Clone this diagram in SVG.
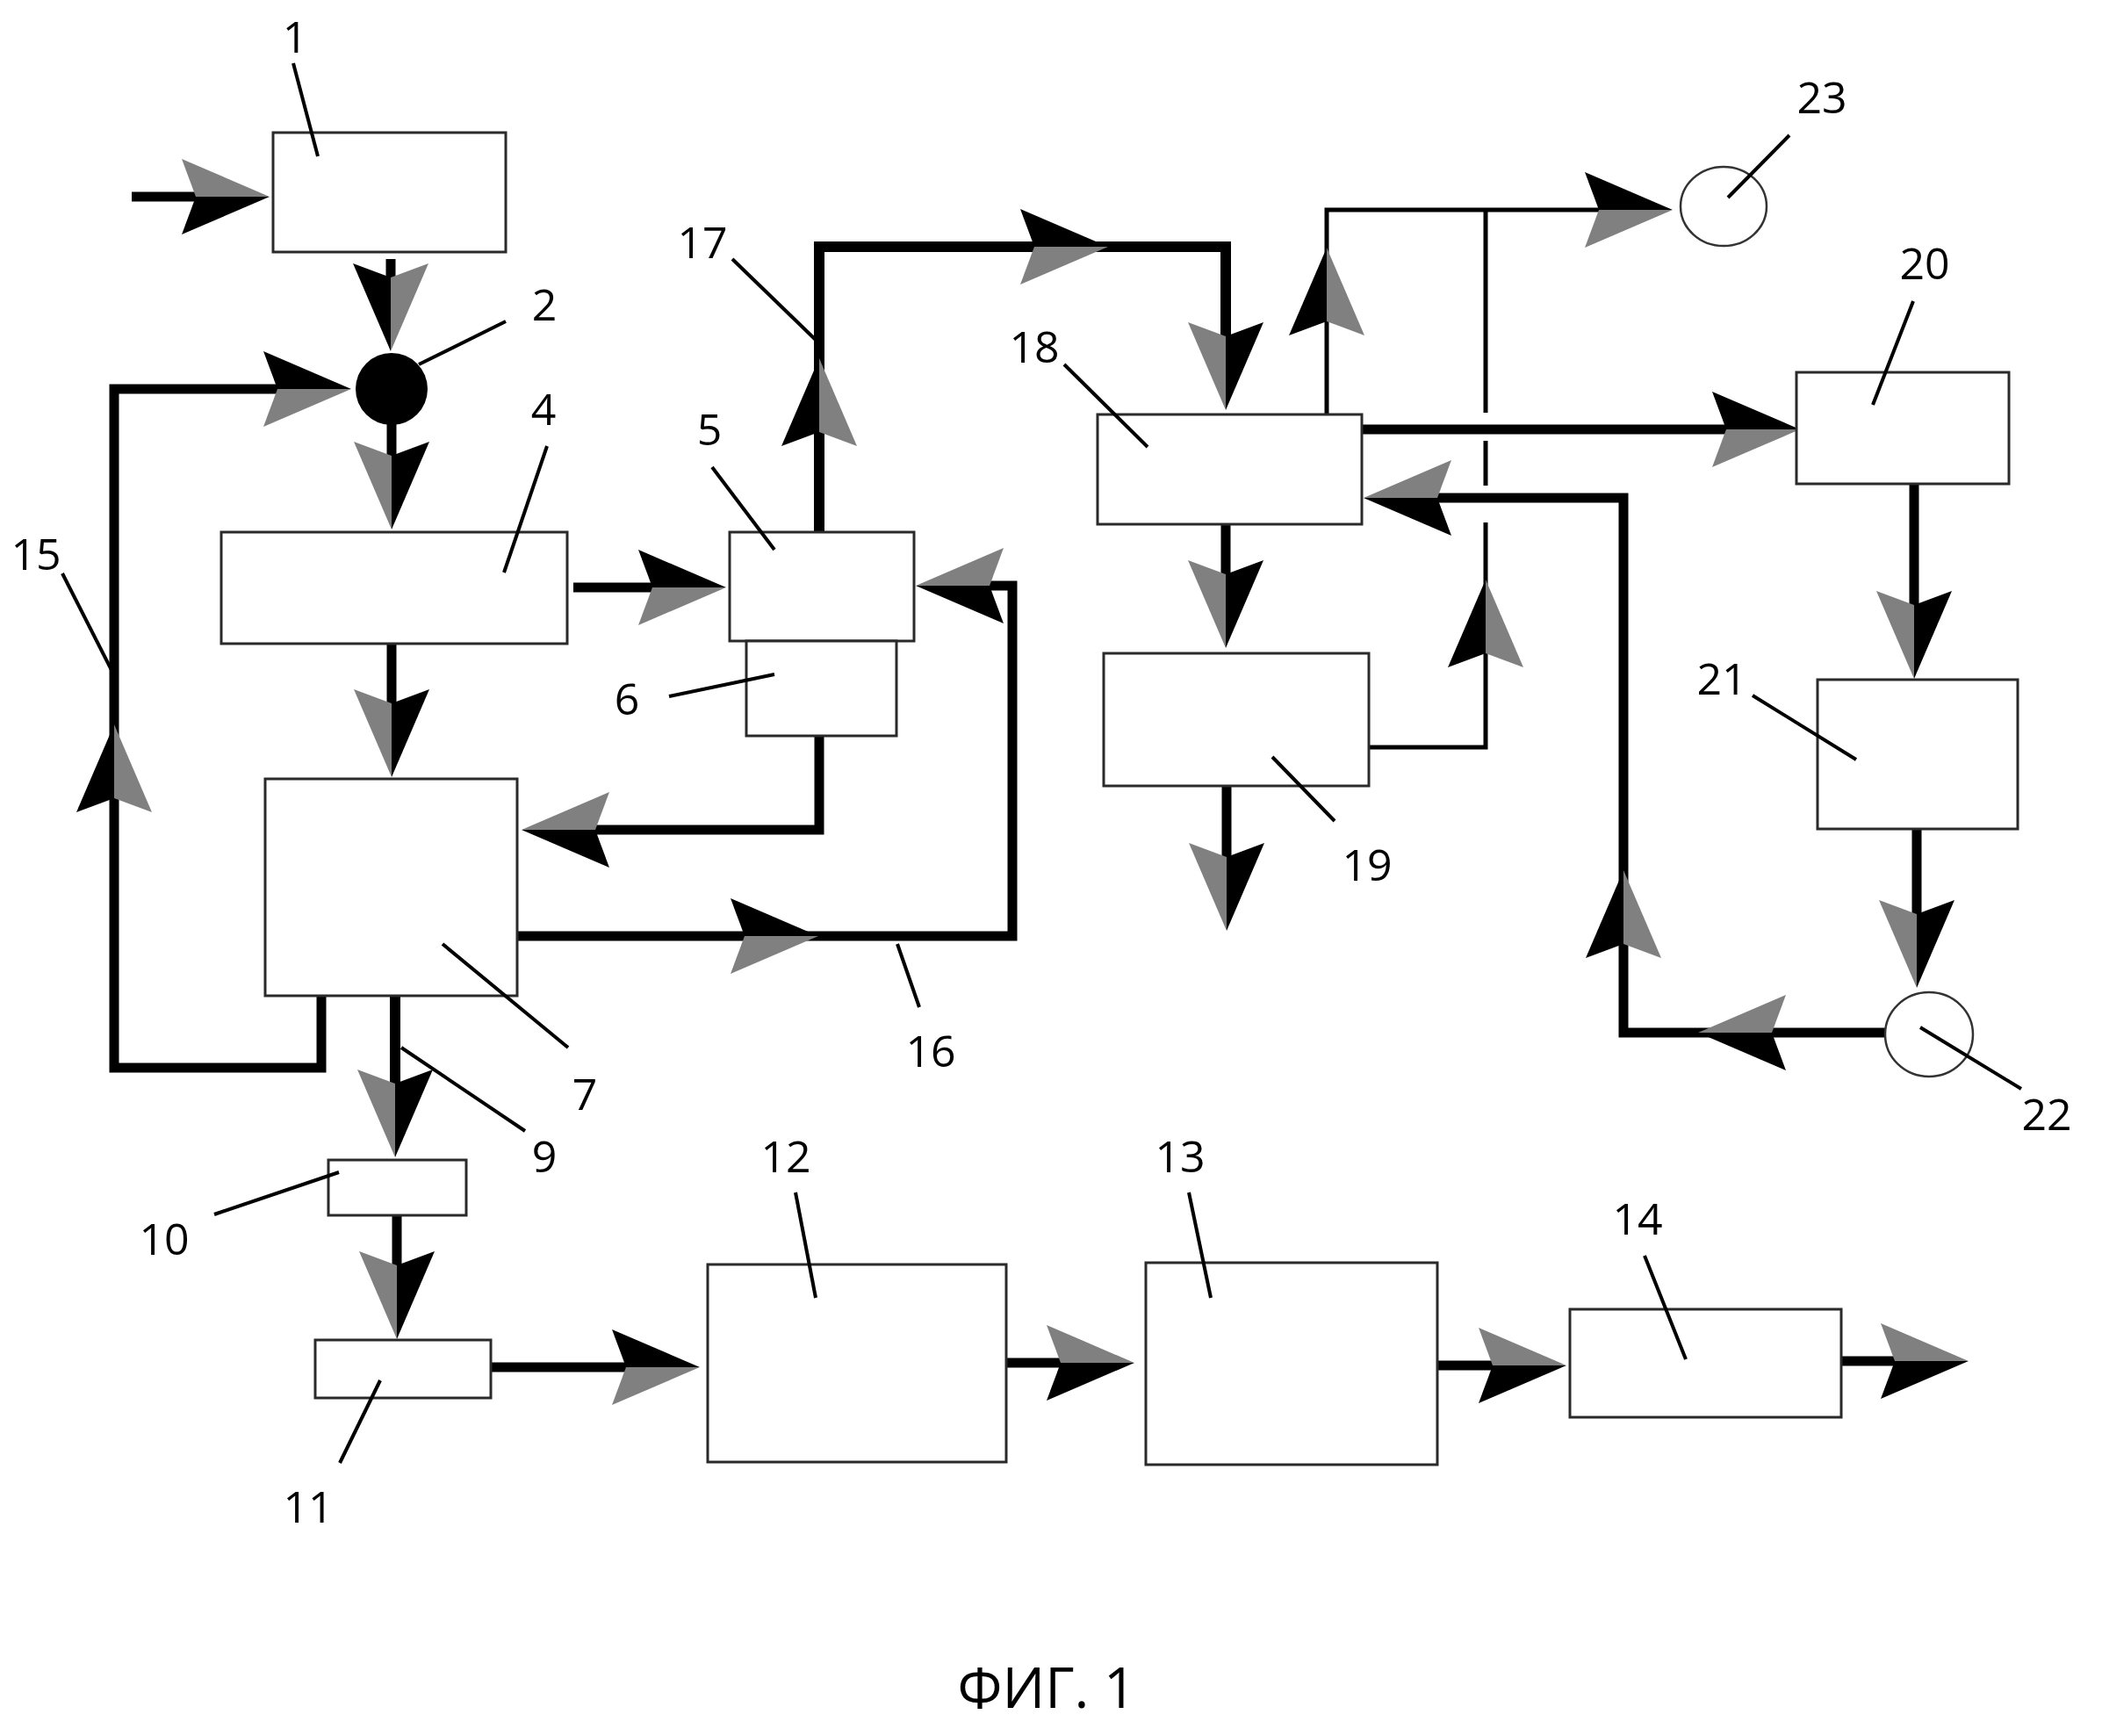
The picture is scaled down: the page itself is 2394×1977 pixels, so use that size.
<svg xmlns="http://www.w3.org/2000/svg" width="2394" height="1977" viewBox="0 0 2394 1977">
<style>
.box{fill:#fff;stroke:#2a2a2a;stroke-width:3}
.ln{fill:none;stroke:#000;stroke-width:11;stroke-linejoin:miter}
.thin{fill:none;stroke:#000;stroke-width:5}
.ld{fill:none;stroke:#000;stroke-width:4}
.lbl{font-family:"Open Sans","Liberation Sans",sans-serif;font-size:50px;fill:#000;text-anchor:middle}
.cap{font-family:"Open Sans","Liberation Sans",sans-serif;font-size:64px;fill:#000;text-anchor:middle}
</style>
<defs>
<g id="ahA"><path d="M0,0 L-100,-43 L-84,0 Z" fill="#808080"/><path d="M0,0 L-84,0 L-100,43 Z" fill="#000"/></g>
<g id="ahB"><path d="M0,0 L-100,-43 L-84,0 Z" fill="#000"/><path d="M0,0 L-84,0 L-100,43 Z" fill="#808080"/></g>
</defs>
<rect width="2394" height="1977" fill="#fff"/>

<g id="connectors">
<path class="ln" d="M150,224 H285"/>
<path class="ln" d="M445,295 V375"/>
<path class="ln" d="M366,1134 V1216 H130 V443 H375"/>
<path class="ln" d="M446,483 V580"/>
<path class="ln" d="M653,669 H805"/>
<path class="ln" d="M446,733 V862"/>
<path class="ln" d="M933,838 V945 H618"/>
<path class="ln" d="M589,1066 H1153 V667 H1068"/>
<path class="ln" style="stroke-width:12" d="M933,606 V281 H1396 V442"/>
<path class="thin" d="M1511,472 V239 H1880"/>
<path class="thin" d="M1559,851 H1692 V595 M1692,553 V502 M1692,470 V239"/>
<path class="ln" d="M1551,489 H2025"/>
<path class="ln" d="M2180,551 V750"/>
<path class="ln" d="M2183,944 V1100"/>
<path class="ln" d="M2147,1176 H1849 V567 H1578"/>
<path class="ln" d="M1396,597 V715"/>
<path class="ln" d="M1397,895 V1035"/>
<path class="ln" style="stroke-width:12" d="M450,1134 V1295"/>
<path class="ln" d="M452,1384 V1500"/>
<path class="ln" d="M559,1557 H772"/>
<path class="ln" d="M1146,1552 H1268"/>
<path class="ln" d="M1637,1555 H1760"/>
<path class="ln" d="M2097,1550 H2218"/>

<use href="#ahA" transform="translate(307,224)"/>
<use href="#ahA" transform="translate(445,400) rotate(90)"/>
<use href="#ahB" transform="translate(130,825) rotate(-90)"/>
<use href="#ahB" transform="translate(400,443)"/>
<use href="#ahB" transform="translate(446,603) rotate(90)"/>
<use href="#ahB" transform="translate(827,669)"/>
<use href="#ahB" transform="translate(446,885) rotate(90)"/>
<use href="#ahB" transform="translate(594,945) rotate(180)"/>
<use href="#ahB" transform="translate(932,1066)"/>
<use href="#ahB" transform="translate(1043,667) rotate(180)"/>
<use href="#ahB" transform="translate(933,408) rotate(-90)"/>
<use href="#ahB" transform="translate(1262,281)"/>
<use href="#ahB" transform="translate(1396,467) rotate(90)"/>
<use href="#ahB" transform="translate(1511,282) rotate(-90)"/>
<use href="#ahB" transform="translate(1905,239)"/>
<use href="#ahB" transform="translate(1692,660) rotate(-90)"/>
<use href="#ahB" transform="translate(2050,489)"/>
<use href="#ahB" transform="translate(2180,773) rotate(90)"/>
<use href="#ahB" transform="translate(2183,1125) rotate(90)"/>
<use href="#ahB" transform="translate(1934,1176) rotate(180)"/>
<use href="#ahB" transform="translate(1849,991) rotate(-90)"/>
<use href="#ahB" transform="translate(1553,567) rotate(180)"/>
<use href="#ahB" transform="translate(1396,738) rotate(90)"/>
<use href="#ahB" transform="translate(1397,1060) rotate(90)"/>
<use href="#ahB" transform="translate(450,1318) rotate(90)"/>
<use href="#ahB" transform="translate(452,1525) rotate(90)"/>
<use href="#ahB" transform="translate(797,1557)"/>
<use href="#ahA" transform="translate(1292,1552)"/>
<use href="#ahA" transform="translate(1784,1555)"/>
<use href="#ahA" transform="translate(2242,1550)"/>

<path class="ld" d="M457,1193 L598,1288"/>
<text class="lbl" x="620" y="1335">9</text>
<path class="ld" d="M71,653 L130,769"/>
<text class="lbl" x="41" y="649">15</text>
<path class="ld" d="M1022,1075 L1047,1147"/>
<text class="lbl" x="1060" y="1215">16</text>
<path class="ld" d="M834,295 L930,388"/>
<text class="lbl" x="800" y="294">17</text>
</g>

<g id="n1"><rect class="box" x="311" y="151" width="265" height="136"/><path class="ld" d="M334,72 L362,178"/><text class="lbl" x="336" y="60">1</text></g>
<g id="n2"><circle cx="446" cy="443" r="41" fill="#000"/><path class="ld" d="M477,415 L576,366"/><text class="lbl" x="620" y="365">2</text></g>
<g id="n4"><rect class="box" x="252" y="606" width="394" height="127"/><path class="ld" d="M623,508 L574,652"/><text class="lbl" x="619" y="484">4</text></g>
<g id="n5"><rect class="box" x="831" y="606" width="210" height="124"/><path class="ld" d="M811,532 L882,626"/><text class="lbl" x="808" y="507">5</text></g>
<g id="n6"><rect class="box" x="850" y="730" width="171" height="108"/><path class="ld" d="M762,793 L882,768"/><text class="lbl" x="714" y="814">6</text></g>
<g id="n7"><rect class="box" x="302" y="887" width="287" height="247"/><path class="ld" d="M504,1075 L647,1193"/><text class="lbl" x="666" y="1264">7</text></g>
<g id="n10"><rect class="box" x="374" y="1321" width="157" height="63"/><path class="ld" d="M244,1383 L386,1335"/><text class="lbl" x="187" y="1429">10</text></g>
<g id="n11"><rect class="box" x="359" y="1526" width="200" height="66"/><path class="ld" d="M387,1666 L433,1572"/><text class="lbl" x="351" y="1734">11</text></g>
<g id="n12"><rect class="box" x="806" y="1440" width="340" height="225"/><path class="ld" d="M906,1358 L929,1478"/><text class="lbl" x="895" y="1335">12</text></g>
<g id="n13"><rect class="box" x="1305" y="1438" width="332" height="230"/><path class="ld" d="M1354,1358 L1379,1478"/><text class="lbl" x="1344" y="1335">13</text></g>
<g id="n14"><rect class="box" x="1788" y="1491" width="309" height="123"/><path class="ld" d="M1873,1430 L1920,1548"/><text class="lbl" x="1865" y="1406">14</text></g>
<g id="n18"><rect class="box" x="1250" y="472" width="301" height="125"/><path class="ld" d="M1212,415 L1307,509"/><text class="lbl" x="1178" y="413">18</text></g>
<g id="n19"><rect class="box" x="1257" y="744" width="302" height="151"/><path class="ld" d="M1449,862 L1520,935"/><text class="lbl" x="1557" y="1003">19</text></g>
<g id="n20"><rect class="box" x="2046" y="424" width="242" height="127"/><path class="ld" d="M2179,343 L2133,461"/><text class="lbl" x="2192" y="318">20</text></g>
<g id="n21"><rect class="box" x="2070" y="774" width="228" height="170"/><path class="ld" d="M1996,792 L2114,865"/><text class="lbl" x="1961" y="791">21</text></g>
<g id="n22"><ellipse cx="2197" cy="1178" rx="50" ry="48" fill="#fff" stroke="#333" stroke-width="2.5"/><path class="ld" d="M2187,1170 L2302,1240"/><text class="lbl" x="2331" y="1287">22</text></g>
<g id="n23"><ellipse cx="1963" cy="235" rx="49" ry="45" fill="#fff" stroke="#333" stroke-width="2.5"/><path class="ld" d="M2038,154 L1968,225"/><text class="lbl" x="2075" y="129">23</text></g>

<text class="cap" x="1192" y="1945">ФИГ. 1</text>
</svg>
